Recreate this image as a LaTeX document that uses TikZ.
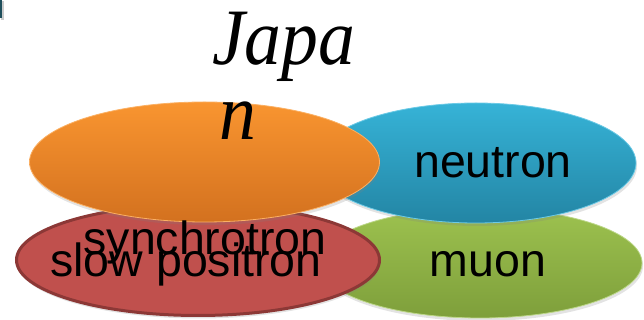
\documentclass[tikz,border=0pt]{standalone}
\usepackage{fontspec}
\setmainfont{Liberation Serif}
\setsansfont{Liberation Sans}
\usetikzlibrary{shapes.geometric,shadows}

\definecolor{orangeTop}{HTML}{F99530}
\definecolor{orangeBot}{HTML}{D3711F}
\definecolor{orangeRim}{HTML}{FBB063}
\definecolor{blueTop}{HTML}{36B3D7}
\definecolor{blueBot}{HTML}{2385A4}
\definecolor{blueRim}{HTML}{6CCAE6}
\definecolor{greenTop}{HTML}{9DC24F}
\definecolor{greenBot}{HTML}{7E9F3B}
\definecolor{greenRim}{HTML}{BCD788}
\definecolor{redFill}{HTML}{C0504D}
\definecolor{redRim}{HTML}{8C3836}
\definecolor{barTeal}{HTML}{1F4F5C}

\tikzset{
  bubble/.style={ellipse, inner sep=0pt, line width=#1,
    drop shadow={opacity=0.22, shadow xshift=1pt, shadow yshift=-3pt}},
  bubble/.default=0.8pt,
  tag/.style={font=\sffamily\fontsize{46.5}{46.5}\selectfont, inner sep=0pt, anchor=base},
  heading/.style={font=\itshape\fontsize{80}{75}\selectfont, inner sep=0pt, anchor=base west, xscale=0.92}
}

\begin{document}
\begin{tikzpicture}[x=1pt,y=1pt]
  \useasboundingbox (0,0) rectangle (644,320);

  % small bar in the upper left corner
  \fill[black!20] (1,300) rectangle (4,319);
  \fill[barTeal] (0,302) rectangle (2,320);

  % the four bubbles, back to front
  \node[bubble, minimum width=324pt, minimum height=110pt,
        top color=greenTop, bottom color=greenBot, draw=greenRim] (muonB) at (480,57) {};
  \node[bubble, minimum width=320pt, minimum height=120pt,
        top color=blueTop, bottom color=blueBot, draw=blueRim] (neutronB) at (476,157) {};
  \node[bubble=3pt, minimum width=363pt, minimum height=111pt,
        fill=redFill, draw=redRim] (positronB) at (198,60) {};
  \node[bubble, minimum width=350pt, minimum height=120pt,
        top color=orangeTop, bottom color=orangeBot, draw=orangeRim] (synchB) at (204.5,158) {};

  % labels
  \node[tag] (neutronT) at (493,142) {neutron};
  \node[tag] (muonT) at (488,43) {muon};
  \node[tag] (positronT) at (186,43) {slow positron};
  \node[tag] (synchT) at (205,65) {synchrotron};

  % heading, broken over two lines
  \node[heading] (headA) at (212,255) {Japa};
  \node[heading] (headB) at (219,180) {n};
\end{tikzpicture}
\end{document}
